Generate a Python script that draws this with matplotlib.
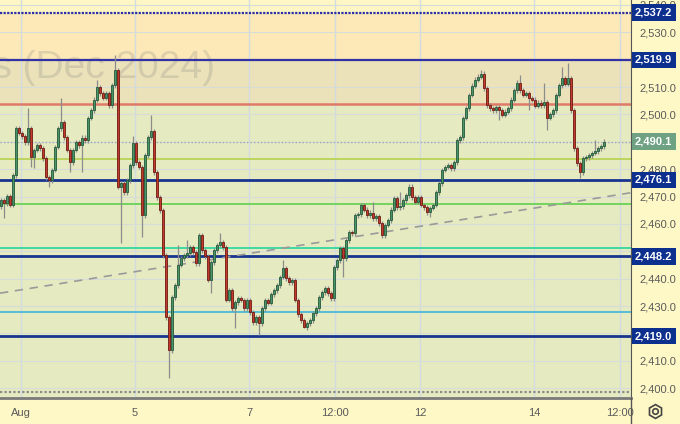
import numpy as np
import matplotlib.pyplot as plt
from matplotlib.lines import Line2D
from matplotlib.transforms import blended_transform_factory

plt.rcParams['font.family'] = ['Liberation Sans', 'DejaVu Sans']

# candle data (hourly-ish bars), open of each bar = previous close
first_open = 2466.5
closes = [
    2468.7, 2467.6, 2470.2, 2466.9, 2477.8, 2495.0, 2493.2, 2492.1, 2489.9, 2495.0,
    2484.4, 2487.0, 2488.8, 2487.7, 2484.0, 2477.1, 2476.0, 2479.7, 2488.1, 2495.0,
    2497.2, 2491.7, 2487.0, 2482.6, 2487.0, 2489.9, 2488.8, 2491.4, 2490.6, 2498.7,
    2501.6, 2505.3, 2510.0, 2507.8, 2506.0, 2507.8, 2503.4, 2510.7, 2516.2, 2473.5,
    2474.9, 2471.6, 2476.0, 2481.5, 2489.5, 2482.6, 2480.8, 2463.2, 2485.1, 2491.7,
    2493.9, 2478.9, 2469.8, 2465.0, 2448.6, 2425.9, 2413.9, 2433.2, 2437.6, 2445.0,
    2447.5, 2448.6, 2449.3, 2451.5, 2449.7, 2445.7, 2455.9, 2450.4, 2448.2, 2439.5,
    2446.0, 2450.4, 2452.3, 2453.4, 2451.5, 2432.2, 2435.8, 2429.2, 2431.4, 2432.9,
    2432.2, 2429.2, 2432.2, 2427.8, 2424.1, 2425.9, 2423.7, 2429.2, 2432.2, 2431.1,
    2434.3, 2435.8, 2437.6, 2440.6, 2443.8, 2440.2, 2438.7, 2439.5, 2432.2, 2427.0,
    2424.8, 2422.3, 2423.7, 2424.8, 2427.4, 2429.2, 2433.2, 2435.1, 2436.5, 2434.7,
    2432.9, 2444.2, 2446.8, 2451.2, 2447.5, 2454.1, 2457.0, 2456.6, 2463.2, 2463.6,
    2466.9, 2465.1, 2463.2, 2464.0, 2462.1, 2462.9, 2460.3, 2455.9, 2459.6, 2461.4,
    2465.1, 2469.4, 2466.1, 2466.5, 2468.7, 2470.5, 2473.5, 2469.8, 2468.0, 2469.8,
    2466.9, 2466.1, 2464.3, 2465.8, 2466.9, 2471.6, 2474.9, 2479.7, 2480.8, 2481.5,
    2480.4, 2482.6, 2490.6, 2491.7, 2498.7, 2502.3, 2507.1, 2510.4, 2512.6, 2513.7,
    2514.8, 2509.6, 2503.4, 2502.3, 2501.6, 2502.7, 2501.6, 2499.8, 2500.9, 2502.3,
    2505.3, 2508.9, 2511.5, 2508.9, 2507.1, 2507.8, 2506.0, 2505.3, 2503.1, 2504.2,
    2503.4, 2504.5, 2498.7, 2500.1, 2501.6, 2507.1, 2510.7, 2513.3, 2511.1, 2513.3,
    2501.6, 2487.7, 2482.2, 2478.9, 2484.0, 2484.4, 2485.1, 2485.9, 2486.6, 2487.7,
    2488.4, 2490.1,
]
# long wicks (bar index -> price)
long_highs = {9: 2502.3, 20: 2506.0, 32: 2512.6, 38: 2521.7, 44: 2492.0, 50: 2499.8,
              59: 2452.3, 62: 2454.0, 73: 2456.7, 94: 2446.8, 124: 2468.0, 133: 2471.6,
              160: 2516.2, 173: 2514.4, 181: 2511.5, 187: 2517.3, 189: 2518.8, 198: 2490.7}
long_lows = {1: 2462.1, 10: 2480.8, 11: 2480.5, 16: 2473.5, 23: 2478.9, 27: 2479.0,
             40: 2453.0, 47: 2455.2, 56: 2403.7, 70: 2434.7, 78: 2422.0, 86: 2419.4,
             101: 2421.9, 114: 2440.6, 143: 2462.5, 166: 2498.0, 176: 2501.6,
             182: 2494.3, 193: 2476.7}

# horizontal levels
blue_levels = [2537.2, 2519.9, 2476.1, 2448.2, 2419.0]
last_price = 2490.1
red_level = 2503.8
other_levels = [2483.7, 2467.3, 2451.2, 2427.8]
other_colors = ['#bcd45e', '#72d45e', '#3fd9a2', '#55bcd6']
bottom_dotted = 2398.5
trend_start, trend_end = 2434.7, 2471.4

# time axis
tick_days = [0, 2, 4, 5.5, 7, 9, 10.5]
tick_labels = ['Aug', '5', '7', '12:00', '12', '14', '12:00']
bars_per_day = 19
first_tick_bar = 6.67

price_ticks = np.arange(2400, 2541, 10)
hidden_price_labels = [2420, 2490, 2520]   # covered by the price tags

closes = np.array(closes)
opens = np.r_[first_open, closes[:-1]]
n = len(closes)
idx = np.arange(n)
top = np.maximum(opens, closes)
bot = np.minimum(opens, closes)
highs = np.array([long_highs.get(i, top[i] + 0.9) for i in range(n)])
lows = np.array([long_lows.get(i, bot[i] - 0.9) for i in range(n)])

fig = plt.figure(figsize=(6.8, 4.24), dpi=100, facecolor='#fef8c6')
ax = fig.add_axes([0, 26 / 424, 631 / 680, 398 / 424])
ymin, ymax = 2396.4, 2541.8
xmin, xmax = -0.33, 210
ax.set_xlim(xmin, xmax)
ax.set_ylim(ymin, ymax)
ax.set_facecolor('#fef7c5')

# coloured zones
ax.axhspan(blue_levels[1], blue_levels[0], color='#fce9b7', lw=0, zorder=0)
ax.axhspan(red_level, blue_levels[1], color='#ebe2b9', lw=0, zorder=0)
ax.axhspan(ymin, red_level, color='#e5eac0', lw=0, zorder=0)

# grid
for d in tick_days:
    ax.axvline(first_tick_bar + bars_per_day * d, color='#d2dbe0', lw=1, zorder=1)
for p in price_ticks:
    ax.axhline(p, color='#d6dcd8', lw=0.8, zorder=1)

# watermark
ax.text(215 / 631, 1 - 78 / 398, 'Futures (Dec 2024)', transform=ax.transAxes,
        ha='right', va='baseline', fontsize=28, color='#7a7a7a', alpha=0.22,
        clip_on=True, zorder=1)

# level lines
ax.axhline(blue_levels[0], color='#2b2fa6', lw=1.6, ls=(0, (1, 0.6)), zorder=2)
ax.axhline(blue_levels[1], color='#3232a4', lw=1.6, zorder=2)
for lv in blue_levels[2:]:
    ax.axhline(lv, color='#17348f', lw=2, zorder=2)
ax.axhline(red_level, color='#e07a68', lw=1.8, zorder=2)
for lv, c in zip(other_levels, other_colors):
    ax.axhline(lv, color=c, lw=1.4, zorder=2)
ax.axhline(last_price, color='#9aaab0', lw=1, ls=(0, (1, 1.5)), zorder=2)
ax.axhline(bottom_dotted, color='#8a8a8a', lw=1.6, ls=(0, (1, 1)), zorder=2)
ax.plot([xmin, xmax], [trend_start, trend_end], color='#9a9a9a', lw=1.2,
        ls=(0, (5, 4)), zorder=2)

# candles
up = closes >= opens
ax.vlines(idx, lows, highs, color='#8c8c8c', lw=0.9, zorder=3)
ax.bar(idx[up], (top - bot)[up], bottom=bot[up], width=0.8, color='#4b9468',
       edgecolor='#24583a', lw=0.6, zorder=4)
ax.bar(idx[~up], (top - bot)[~up], bottom=bot[~up], width=0.8, color='#c23a2c',
       edgecolor='#6e1a12', lw=0.6, zorder=4)

# axes styling
for s in ['top', 'left']:
    ax.spines[s].set_visible(False)
ax.spines['right'].set_color('#555555')
ax.spines['bottom'].set_color('#7a7a7a')
ax.spines['bottom'].set_linewidth(2)
ax.yaxis.tick_right()
ax.set_yticks(price_ticks)
ax.set_yticklabels(['' if p in hidden_price_labels else f'{p:,.1f}' for p in price_ticks])
ax.set_xticks([first_tick_bar + bars_per_day * d for d in tick_days])
ax.set_xticklabels(tick_labels)
ax.tick_params(axis='y', length=0, pad=6, labelsize=8, labelcolor='#5a5a5a')
ax.tick_params(axis='x', length=0, pad=7, labelsize=8, labelcolor='#5a5a5a')

# price tags
tr = blended_transform_factory(ax.transAxes, ax.transData)
for lv in blue_levels:
    ax.text(1.0065, lv, f'{lv:,.1f}', transform=tr, ha='left', va='center',
            color='white', fontsize=8, fontweight='bold', clip_on=False, zorder=10,
            bbox=dict(boxstyle='square,pad=0.3', fc='#0d2f8e', ec='none'))
ax.text(1.0065, last_price, f'{last_price:,.1f}', transform=tr, ha='left', va='center',
        color='white', fontsize=8, fontweight='bold', clip_on=False, zorder=10,
        bbox=dict(boxstyle='square,pad=0.3', fc='#6fa283', ec='none'))

# axis separator and settings icon
fig.add_artist(Line2D([631 / 680, 631 / 680], [0, 26 / 424], color='#555555', lw=1))
fig.add_artist(Line2D([655 / 680], [1 - 411 / 424], marker='h', ms=10, mfc='none',
                      mec='#444444', mew=1.2, transform=fig.transFigure))
fig.add_artist(Line2D([655 / 680], [1 - 411 / 424], marker='o', ms=4, mfc='none',
                      mec='#444444', mew=1.2, transform=fig.transFigure))

fig.savefig('out.png', dpi=100, facecolor=fig.get_facecolor())
